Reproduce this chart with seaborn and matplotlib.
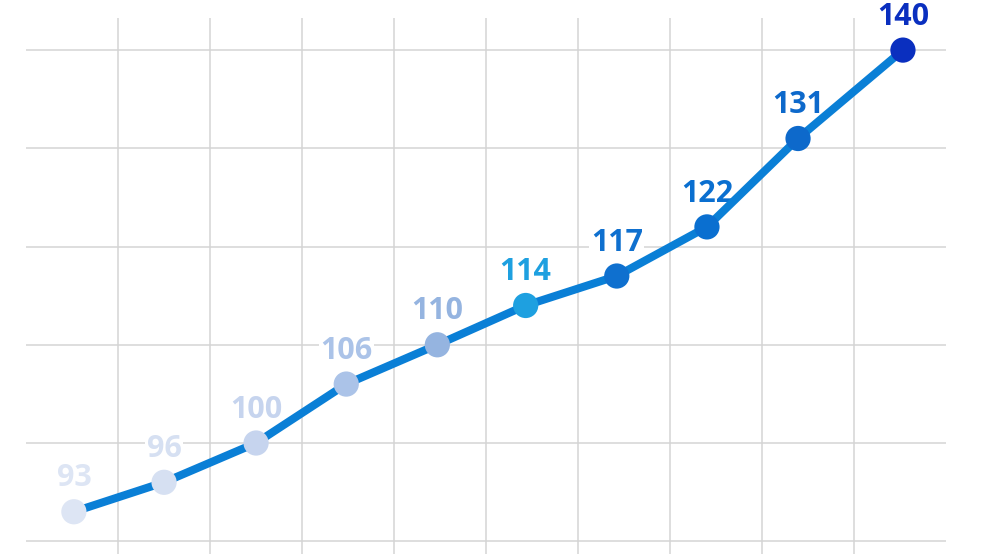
import numpy as np
import pandas as pd
import matplotlib
matplotlib.use("Agg")
import matplotlib.pyplot as plt
import seaborn as sns

# values
values = [93, 96, 100, 106, 110, 114, 117, 122, 131, 140]
# horizontal position of each point, in grid cells from the left edge of the grid
x_pos = [0.52, 1.50, 2.50, 3.48, 4.47, 5.43, 6.42, 7.40, 8.39, 9.53]
point_colors = ["#dde5f4", "#d6e0f2", "#c6d4ee", "#abc3e8", "#95b4e0",
                "#1ea0e0", "#0f70cf", "#0a6fd0", "#0d69cb", "#0a2fbf"]
y_ticks = [90, 100, 110, 120, 130, 140]
x_grid = [1, 2, 3, 4, 5, 6, 7, 8, 9]

df = pd.DataFrame({"x": x_pos, "value": values, "label": [str(v) for v in values]})

sns.set_theme(style="white")
plt.rcParams["font.family"] = ["Open Sans", "DejaVu Sans"]

fig = plt.figure(figsize=(9.83, 5.54), dpi=100)
ax = fig.add_axes([0, 0, 1, 1])
ax.set_xlim(-0.283, 10.40)
ax.set_ylim(88.7, 145.1)

grid_c = "#d4d4d4"
ax.hlines(y_ticks, 0, 10, color=grid_c, lw=1.1, zorder=0)
ax.vlines(x_grid, 88.7, 143.3, color=grid_c, lw=1.1, zorder=0)

sns.lineplot(data=df, x="x", y="value", ax=ax, color="#0a7fd6", lw=5.8, zorder=2)
sns.scatterplot(data=df, x="x", y="value", hue="label", palette=point_colors,
                s=330, edgecolor="none", legend=False, ax=ax, zorder=3)

# labels sit over the grid but under the line
for i, row in df.iterrows():
    ax.annotate(row["label"], (row["x"], row["value"]), xytext=(0, 24),
                textcoords="offset points", ha="center", va="center",
                fontsize=22, fontweight="bold", color=point_colors[i],
                bbox=dict(boxstyle="square,pad=0.05", fc="white", ec="none"),
                zorder=1)

ax.set_axis_off()
fig.savefig("out.png", dpi=100)
